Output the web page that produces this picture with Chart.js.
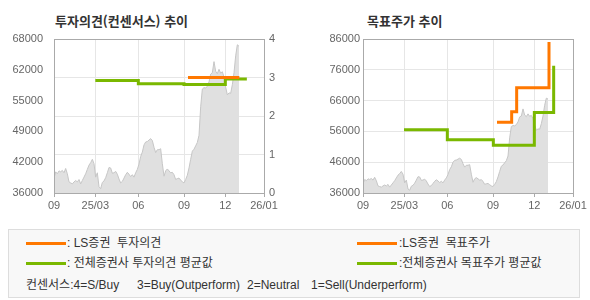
<!DOCTYPE html>
<html lang="ko">
<head>
<meta charset="utf-8">
<script src="https://cdn.jsdelivr.net/npm/chart.js"></script>
<style>
  body { margin:0; width:590px; height:300px; background:#fff; position:relative; overflow:hidden; font-family:"Noto Sans CJK KR", sans-serif; color:#333; }
  .title { position:absolute; top:12px; font-size:13px; font-weight:bold; line-height:17px; color:#333; white-space:pre; }
  canvas { position:absolute; top:0; }
  #legend { position:absolute; left:8px; top:229px; width:570px; height:67px; background:#f8f8f8; border:1px solid #ddd; }
  .item { position:absolute; font-family:"Liberation Sans", "Noto Sans CJK KR", sans-serif; font-size:12px; line-height:16px; white-space:pre; color:#333; }
  .swatch { position:absolute; width:40px; height:3px; }
</style>
</head>
<body>
<div class="title" style="left:55px">투자의견(컨센서스) 추이</div>
<div class="title" style="left:367px">목표주가 추이</div>
<canvas id="chart-opinion" width="295" height="215" style="left:0"></canvas>
<canvas id="chart-target" width="295" height="215" style="left:295px"></canvas>

<div id="legend">
  <div class="swatch" style="left:17px;top:12px;background:#ff7800"></div>
  <div class="item" style="left:58px;top:5px">: LS증권  투자의견</div>
  <div class="swatch" style="left:17px;top:32px;background:#7ab800"></div>
  <div class="item" style="left:58px;top:25px">: 전체증권사 투자의견 평균값</div>
  <div class="swatch" style="left:348px;top:12px;background:#ff7800"></div>
  <div class="item" style="left:390px;top:5px">:LS증권  목표주가</div>
  <div class="swatch" style="left:348px;top:32px;background:#7ab800"></div>
  <div class="item" style="left:390px;top:25px">:전체증권사 목표주가 평균값</div>
  <div class="item" style="left:17px;top:47px">컨센서스:4=S/Buy</div>
  <div class="item" style="left:128px;top:47px">3=Buy(Outperform)</div>
  <div class="item" style="left:238px;top:47px">2=Neutral</div>
  <div class="item" style="left:302px;top:47px">1=Sell(Underperform)</div>
</div>

<script>
// x axis: trading day index
const tickDays = [0, 24.8, 50.6, 78, 102.8, 126];
const tickLabels = ['09', '25/03', '06', '09', '12', '26/01'];

// closing price, one sample per day index
const price = [
  39000, 40400, 40000, 40600, 40400, 40700, 40200, 41100, 40000, 38300,
  38100, 37900, 38300, 38600, 38300, 38800, 37900, 38600, 39300, 40000,
  40900, 41800, 42300, 43000, 42100, 39300, 40200, 37300, 36900, 38200,
  38500, 39200, 40200, 41300, 41200, 40100, 40200, 40500, 39900, 38900,
  38100, 38400, 39100, 39800, 40300, 39900, 39400, 39800, 39300, 40200,
  40900, 42000, 43600, 44500, 46000, 46600, 46700, 47000, 47300, 46900,
  45500, 44400, 45000, 45000, 45200, 42100, 39500, 40600, 41000, 40600,
  40200, 40300, 39800, 38800, 39000, 39100, 38700, 38300, 38100, 38800,
  39700, 41200, 43000, 44700, 45100, 45800, 46500, 48000, 53900, 57600,
  57900, 57800, 58200, 59100, 60700, 61000, 63300, 61300, 60800, 61700,
  60900, 61200, 60100, 58000, 56400, 56800, 56700, 58500, 61000, 64500,
  66800, 66500
];

// left chart: opinion (4=S/Buy ... 1=Sell)
const priceTickLabels = ['36000', '42000', '49000', '55000', '62000', '68000'];
const lsOpinionDays = [80.4, 111.2];
const lsOpinion = [3.0, 3.0];
const avgOpinionDays = [24.8, 50.6, 78, 102.8, 114.8];
const avgOpinion = [2.92, 2.84, 2.82, 2.96, 3.0];

// right chart: target price
const lsTargetDays = [80.4, 89.2, 92.2, 111.6];
const lsTarget = [59000, 62400, 70200, 85000];
const avgTargetDays = [24.6, 50.6, 78.2, 102.8, 114.4];
const avgTarget = [56500, 53300, 51500, 62100, 77300];

const ORANGE = '#ff7800';
const GREEN = '#7ab800';
const GRID = '#e6e6e6';

Chart.defaults.font.family = '"Liberation Sans", Arial, sans-serif';
Chart.defaults.font.size = 11;
Chart.defaults.color = '#666';

const pts = (xs, ys) => xs.map((x, i) => ({ x: x, y: ys[i] }));
const pricePts = price.map((v, i) => ({ x: i, y: v }));

// outline round the plot area
const frame = {
  id: 'frame',
  afterDraw(chart) {
    const { ctx, chartArea: a } = chart;
    ctx.save();
    ctx.strokeStyle = '#aaa';
    ctx.lineWidth = 1;
    ctx.strokeRect(Math.round(a.left) + 0.5, Math.round(a.top) + 0.5, Math.round(a.width), Math.round(a.height));
    ctx.restore();
  }
};

function priceSet() {
  return {
    data: pricePts,
    yAxisID: 'y',
    fill: 'start',
    backgroundColor: '#e0e0e0',
    borderColor: '#c6c6c6',
    borderWidth: 1,
    pointRadius: 0,
    order: 3
  };
}

// hold each value until the next point, then jump
function stepSet(data, color, axis, order) {
  return {
    data: data,
    yAxisID: axis,
    stepped: 'before',
    fill: false,
    borderColor: color,
    borderWidth: 3,
    borderCapStyle: 'butt',
    pointRadius: 0,
    order: order
  };
}

function xScale() {
  return {
    type: 'linear',
    min: 0,
    max: 126,
    afterBuildTicks: s => { s.ticks = tickDays.map(v => ({ value: v })); },
    afterFit: s => { s.height = 22; },
    ticks: { autoSkip: false, maxRotation: 0, padding: 2, callback: (v, i) => tickLabels[i] },
    grid: { color: GRID, tickLength: 4, tickColor: '#aaa' },
    border: { display: false }
  };
}

const baseOptions = {
  responsive: false,
  animation: false,
  plugins: { legend: { display: false }, tooltip: { enabled: false } }
};

new Chart(document.getElementById('chart-opinion'), {
  type: 'line',
  data: {
    datasets: [
      priceSet(),
      stepSet(pts(avgOpinionDays, avgOpinion), GREEN, 'y2', 2),
      stepSet(pts(lsOpinionDays, lsOpinion), ORANGE, 'y2', 1)
    ]
  },
  options: {
    ...baseOptions,
    layout: { padding: { left: 4, top: 39, right: 0, bottom: 0 } },
    scales: {
      x: xScale(),
      y: {
        position: 'left',
        min: 36000,
        max: 68000,
        afterBuildTicks: s => {
          s.ticks = priceTickLabels.map((l, i) => ({ value: 36000 + i * (68000 - 36000) / (priceTickLabels.length - 1) }));
        },
        afterFit: s => { s.width = 50; },
        ticks: { padding: 3, callback: (v, i) => priceTickLabels[i] },
        grid: { display: false },
        border: { display: false }
      },
      y2: {
        position: 'right',
        min: 0,
        max: 4,
        afterFit: s => { s.width = 31; },
        ticks: { stepSize: 1, padding: 5 },
        grid: { color: GRID, drawTicks: false },
        border: { display: false }
      }
    }
  },
  plugins: [frame]
});

new Chart(document.getElementById('chart-target'), {
  type: 'line',
  data: {
    datasets: [
      priceSet(),
      stepSet(pts(avgTargetDays, avgTarget), GREEN, 'y', 2),
      stepSet(pts(lsTargetDays, lsTarget), ORANGE, 'y', 1)
    ]
  },
  options: {
    ...baseOptions,
    layout: { padding: { left: 4, top: 39, right: 17, bottom: 0 } },
    scales: {
      x: xScale(),
      y: {
        position: 'left',
        min: 36000,
        max: 86000,
        afterFit: s => { s.width = 64; },
        ticks: { stepSize: 10000, padding: 3, callback: v => String(v) },
        grid: { color: GRID, drawTicks: false },
        border: { display: false }
      }
    }
  },
  plugins: [frame]
});
</script>
</body>
</html>
